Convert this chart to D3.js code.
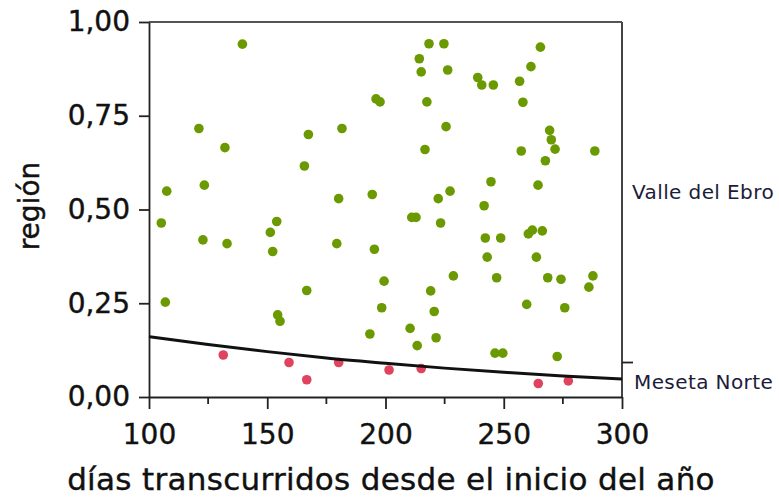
<!DOCTYPE html>
<html><head><meta charset="utf-8">
<script src="https://cdn.jsdelivr.net/npm/d3@7"></script>
<style>body{margin:0;background:#fff}svg{display:block}</style>
</head><body>
<svg id="c" width="779" height="497"></svg>
<script>
// Valle del Ebro points: [day, jittered y]
const valleDays = [139.5,121.1,132.1,167.4,165.7,107.5,123.4,218.4,224.7,214.3,215.1,226.3,196.0,197.7,217.5,181.6,225.6,216.7,180.2,194.4,222.3,227.3,265.5,261.5,239.0,240.7,245.6,256.7,258.1,269.4,270.1,271.7,257.4,267.6,288.5,244.6,264.5,241.7,105.2,122.8,133.0,154.0,151.3,152.3,106.9,154.4,155.4,166.7,211.1,212.9,223.3,179.4,195.3,199.4,228.7,219.1,198.4,220.6,210.4,193.4,221.4,213.4,242.2,248.7,260.4,262.1,266.3,243.0,263.8,247.0,268.6,274.2,287.7,286.0,259.7,275.8,246.3,249.6,272.6];
const valleY = [0.941,0.716,0.665,0.700,0.616,0.549,0.565,0.942,0.942,0.902,0.867,0.872,0.795,0.787,0.787,0.716,0.721,0.660,0.529,0.540,0.529,0.549,0.933,0.881,0.852,0.832,0.832,0.842,0.786,0.711,0.686,0.661,0.656,0.630,0.656,0.574,0.565,0.510,0.464,0.419,0.409,0.468,0.439,0.388,0.253,0.219,0.202,0.284,0.479,0.479,0.464,0.409,0.394,0.309,0.323,0.283,0.238,0.228,0.183,0.168,0.158,0.137,0.424,0.424,0.435,0.445,0.443,0.373,0.373,0.318,0.318,0.314,0.323,0.293,0.247,0.238,0.117,0.117,0.108];
// Meseta Norte points
const mesetaDays = [131.4,159.2,166.7,180.2,201.5,215.1,264.6,277.3];
const mesetaY = [0.112,0.092,0.046,0.092,0.072,0.076,0.036,0.043];
// fitted probability curve
const curveDays = [100,125,150,175,200,225,250,275,300];
const curveP = [0.161,0.140,0.121,0.104,0.090,0.077,0.066,0.056,0.048];
const xTicks = [100,150,200,250,300];
const xMinor = [125,175,225,275];
const yTicks = [0,0.25,0.5,0.75,1];
const categories = ["Meseta Norte","Valle del Ebro"];
const counts = [mesetaDays.length, valleDays.length];

const svg = d3.select("#c");
const L=149, R=622, T=22, B=397;
const x = d3.scaleLinear().domain([100,300]).range([L,R]);
const y = d3.scaleLinear().domain([0,1]).range([B,T]);
const font = "DejaVu Sans, Verdana, sans-serif";
const fmt = d => d3.format(".2f")(d).replace(".", ",");

// frame top & right
svg.append("line").attr("x1",L).attr("x2",R).attr("y1",T).attr("y2",T).attr("stroke","#555").attr("stroke-width",2);
svg.append("line").attr("x1",R).attr("x2",R).attr("y1",T).attr("y2",B).attr("stroke","#444").attr("stroke-width",2);

// x axis
const xa = svg.append("g").attr("transform",`translate(0,${B})`)
  .call(d3.axisBottom(x).tickValues(xTicks).tickSize(12).tickSizeOuter(0).tickPadding(15).tickFormat(d3.format("d")));
xa.select(".domain").attr("stroke","#222").attr("stroke-width",1.8);
xa.selectAll(".tick line").attr("stroke","#222").attr("stroke-width",1.8);
xa.selectAll("text").attr("font-family",font).attr("font-size",28).attr("fill","#111").attr("stroke","#111").attr("stroke-width",0.4);
svg.append("g").selectAll("line").data(xMinor).join("line")
  .attr("x1",d=>x(d)).attr("x2",d=>x(d)).attr("y1",B).attr("y2",B+7).attr("stroke","#222").attr("stroke-width",1.8);

// y axis
const ya = svg.append("g").attr("transform",`translate(${L},0)`)
  .call(d3.axisLeft(y).tickValues(yTicks).tickSize(10).tickSizeOuter(0).tickPadding(9).tickFormat(fmt));
ya.select(".domain").attr("stroke","#222").attr("stroke-width",1.8);
ya.selectAll(".tick line").attr("stroke","#222").attr("stroke-width",1.8);
ya.selectAll("text").attr("font-family",font).attr("font-size",28).attr("fill","#111").attr("stroke","#111").attr("stroke-width",0.4);

// right category axis
const total = counts[0]+counts[1];
const pMes = counts[0]/total;
svg.append("line").attr("x1",R).attr("x2",R+11).attr("y1",y(pMes)).attr("y2",y(pMes)).attr("stroke","#222").attr("stroke-width",1.8);
svg.append("text").attr("x",R+12).attr("y",y(pMes/2)+2).attr("dy","0.35em").attr("letter-spacing",0.4)
  .attr("font-family",font).attr("font-size",20).attr("fill","#1c1c3a").text(categories[0]);
svg.append("text").attr("x",R+10).attr("y",y((pMes+1)/2)).attr("dy","0.35em").attr("letter-spacing",0.4)
  .attr("font-family",font).attr("font-size",20).attr("fill","#1c1c3a").text(categories[1]);

// points
svg.append("g").selectAll("circle").data(valleDays.map((d,i)=>[d,valleY[i]])).join("circle")
  .attr("cx",d=>x(d[0])).attr("cy",d=>y(d[1])).attr("r",4.8).attr("fill","#6b9a00");
svg.append("g").selectAll("circle").data(mesetaDays.map((d,i)=>[d,mesetaY[i]])).join("circle")
  .attr("cx",d=>x(d[0])).attr("cy",d=>y(d[1])).attr("r",4.8).attr("fill","#e0435d");

// curve
svg.append("path").datum(curveDays.map((d,i)=>[d,curveP[i]]))
  .attr("d", d3.line().x(d=>x(d[0])).y(d=>y(d[1])).curve(d3.curveMonotoneX))
  .attr("fill","none").attr("stroke","#111").attr("stroke-width",3);

// axis titles
svg.append("text").attr("x",391).attr("y",490).attr("text-anchor","middle").attr("letter-spacing",0.3)
  .attr("font-family",font).attr("font-size",31).attr("fill","#111").attr("stroke","#111").attr("stroke-width",0.4).text("días transcurridos desde el inicio del año");
svg.append("text").attr("transform",`translate(39,206) rotate(-90)`).attr("text-anchor","middle")
  .attr("font-family",font).attr("font-size",28).attr("fill","#111").attr("stroke","#111").attr("stroke-width",0.4).text("región");
</script>
</body></html>
